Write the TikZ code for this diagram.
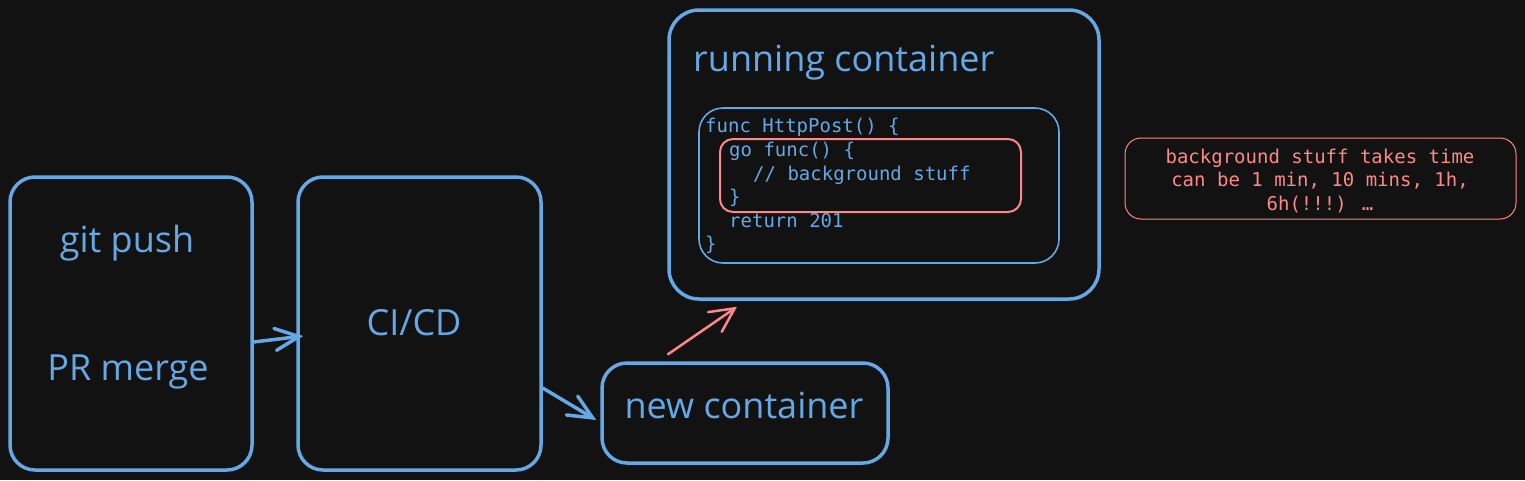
\documentclass[tikz,border=0pt]{standalone}
\usepackage{fontspec}
\setmainfont{Open Sans}
\newfontfamily\codefont{DejaVu Sans Mono}
\usetikzlibrary{arrows.meta}
\definecolor{bg}{HTML}{121212}
\definecolor{blu}{RGB}{100,168,230}
\definecolor{rd}{RGB}{255,135,135}
\begin{document}
\begin{tikzpicture}[x=1pt,y=-1pt,
  bigbox/.style={draw=blu, line width=3.5pt, rounded corners=25pt, inner sep=0pt},
  thinbox/.style={draw=blu, line width=1.6pt, rounded corners=24pt, inner sep=0pt},
  redbox/.style={draw=rd, line width=2pt, rounded corners=13pt, inner sep=0pt},
  notebox/.style={draw=rd, line width=1pt, rounded corners=16pt, inner sep=0pt},
  hand/.style={text=blu, font=\fontsize{36}{42}\selectfont, inner sep=0pt},
  code/.style={text=blu, font=\codefont\fontsize{19}{24}\selectfont, anchor=base west, inner sep=0pt},
  notetext/.style={text=rd, font=\codefont\fontsize{19}{23.5}\selectfont, align=center, inner sep=0pt},
  bluarrow/.style={draw=blu, line width=3.5pt, line cap=round, -{Straight Barb[length=24pt,width=22pt,line cap=round]}},
  redarrow/.style={draw=rd, line width=2.5pt, line cap=round, -{Straight Barb[length=24pt,width=24pt,line cap=round]}}]
\fill[bg] (0,0) rectangle (1525,480);
\useasboundingbox (0,0) rectangle (1525,480);
% boxes
\node[bigbox, minimum width=242pt, minimum height=293pt] (git) at (131,323.5) {};
\node[bigbox, minimum width=243pt, minimum height=293pt] (cicd) at (419.5,323.5) {};
\node[bigbox, minimum width=286pt, minimum height=100pt] (newc) at (745,413) {};
\node[bigbox, rounded corners=30pt, minimum width=430pt, minimum height=289pt] (run) at (884,154.5) {};
\node[thinbox, minimum width=360pt, minimum height=155pt] (codebox) at (879,185.5) {};
\node[redbox, minimum width=301pt, minimum height=73pt] (gobox) at (870.5,175.5) {};
\node[notebox, minimum width=391pt, minimum height=81pt] (note) at (1320.5,178.5) {};
% texts
\node[hand] (tgit) at (127,243) {git push};
\node[hand] (tpr) at (128,372) {PR merge};
\node[hand] (tci) at (414,323) {CI/CD};
\node[hand] (tnew) at (744,405) {new container};
\node[hand, anchor=west] (trun) at (693,63) {running container};
\node[code] (c1) at (705,132) {func HttpPost() \{};
\node[code] (c2) at (729,156) {go func() \{};
\node[code] (c3) at (753,180) {// background stuff};
\node[code] (c4) at (729,203) {\}};
\node[code] (c5) at (729,227) {return 201};
\node[code] (c6) at (705,250) {\}};
\node[notetext] (tnote) at (1320,181) {background stuff takes time\\can be 1 min, 10 mins, 1h,\\6h(!!!) …};
% arrows
\draw[bluarrow] ([yshift=-18.5pt]git.east) -- ([xshift=7pt,yshift=-12.5pt]cicd.west);
\draw[bluarrow] ([yshift=-64.5pt]cicd.east) -- ([xshift=-4pt,yshift=-7pt]newc.west);
\draw[redarrow] ([xshift=-77pt,yshift=7pt]newc.north) -- ([xshift=-147pt,yshift=-6pt]run.south);
\end{tikzpicture}
\end{document}
